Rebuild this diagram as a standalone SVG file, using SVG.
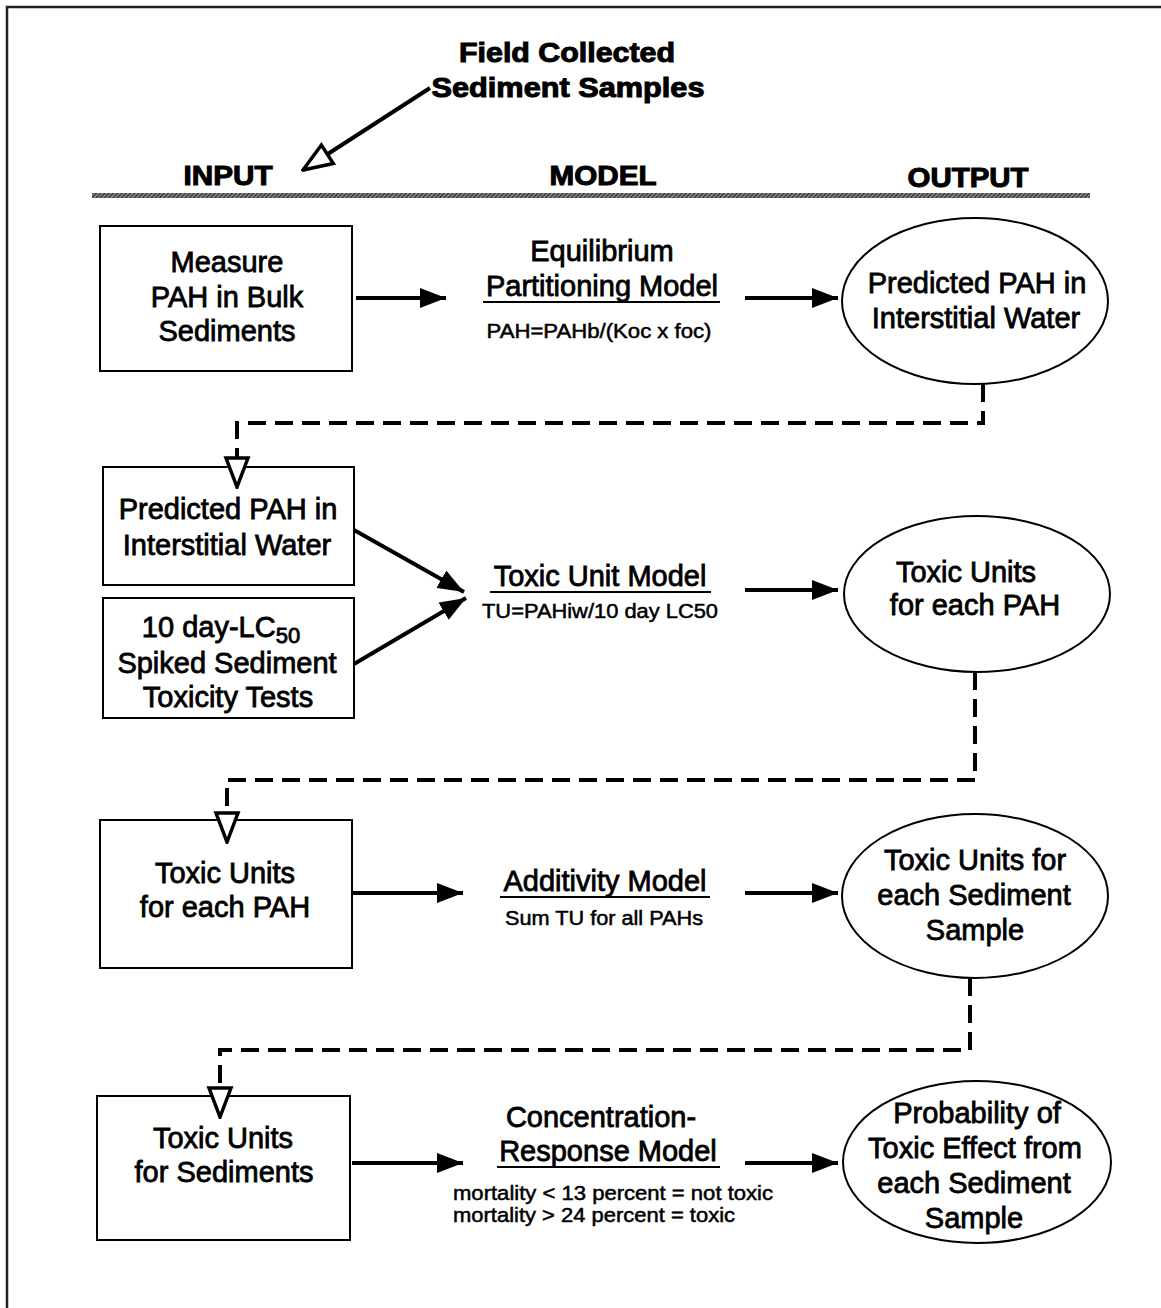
<svg xmlns="http://www.w3.org/2000/svg" width="1161" height="1308" viewBox="0 0 1161 1308">
  <style>
    text { font-family: "Liberation Sans", Arial, sans-serif; fill: #000; }
    .head { font-size: 27px; font-weight: bold; text-anchor: middle; stroke: #000; stroke-width: 1; }
    .lbl { font-size: 29px; text-anchor: middle; stroke: #000; stroke-width: 0.8; }
    .sm { font-size: 20px; text-anchor: middle; stroke: #000; stroke-width: 0.5; }
    .box { fill: #fff; stroke: #000; stroke-width: 2; }
    .conn { fill: none; stroke: #000; stroke-width: 4; }
    .dash { fill: none; stroke: #000; stroke-width: 4; stroke-dasharray: 18 9; }
    .ul { stroke: #000; stroke-width: 2; }
  </style>
  <defs>
    <marker id="solid" markerUnits="userSpaceOnUse" viewBox="0 0 26 20" refX="26" refY="10" markerWidth="26" markerHeight="20" orient="auto">
      <path d="M0,0 L26,10 L0,20 z" fill="#000"/>
    </marker>
    <marker id="open" markerUnits="userSpaceOnUse" viewBox="0 0 34 28" refX="32" refY="14" markerWidth="34" markerHeight="28" orient="auto">
      <path d="M3,3 L32,14 L3,25 z" fill="#fff" stroke="#000" stroke-width="3.5" stroke-linejoin="miter"/>
    </marker>
    <pattern id="hatch" patternUnits="userSpaceOnUse" width="3" height="3" patternTransform="rotate(45)">
      <rect width="3" height="3" fill="#9a9a9a"/>
      <rect width="1.6" height="3" fill="#333"/>
    </pattern>
  </defs>

  <!-- page frame -->
  <path d="M7,1308 V7 H1161" fill="none" stroke="#222" stroke-width="2.5"/>

  <!-- title and column headings -->
  <g id="title">
    <text class="head" x="567" y="62" textLength="216" lengthAdjust="spacingAndGlyphs">Field Collected</text>
    <text class="head" x="568" y="97" textLength="273" lengthAdjust="spacingAndGlyphs">Sediment Samples</text>
  </g>
  <g id="headings">
    <text class="head" x="228" y="185" textLength="89" lengthAdjust="spacingAndGlyphs">INPUT</text>
    <text class="head" x="603" y="185" textLength="107" lengthAdjust="spacingAndGlyphs">MODEL</text>
    <text class="head" x="968" y="187" textLength="121" lengthAdjust="spacingAndGlyphs">OUTPUT</text>
    <rect x="92" y="193" width="998" height="5" fill="url(#hatch)"/>
  </g>

  <!-- row 1 -->
  <g id="measure-bulk">
    <rect class="box" x="100" y="226" width="252" height="145"/>
    <text class="lbl" x="227" y="272">Measure</text>
    <text class="lbl" x="227" y="307">PAH in Bulk</text>
    <text class="lbl" x="227" y="341">Sediments</text>
  </g>
  <g id="ep-model">
    <text class="lbl" x="602" y="261">Equilibrium</text>
    <text class="lbl" x="602" y="296">Partitioning Model</text>
    <line class="ul" x1="483" y1="302" x2="720" y2="302"/>
    <text class="sm" x="599" y="338" textLength="225" lengthAdjust="spacingAndGlyphs">PAH=PAHb/(Koc x foc)</text>
  </g>
  <g id="pah-water-out">
    <ellipse class="box" cx="975" cy="301" rx="133" ry="83"/>
    <text class="lbl" x="977" y="293">Predicted PAH in</text>
    <text class="lbl" x="976" y="328">Interstitial Water</text>
  </g>

  <!-- row 2 -->
  <g id="pah-water-in">
    <rect class="box" x="103" y="467" width="251" height="118"/>
    <text class="lbl" x="228" y="519">Predicted PAH in</text>
    <text class="lbl" x="227" y="555">Interstitial Water</text>
  </g>
  <g id="lc50-tests">
    <rect class="box" x="103" y="598" width="251" height="120"/>
    <text class="lbl" x="221" y="637">10 day-LC<tspan font-size="22" dy="6">50</tspan></text>
    <text class="lbl" x="227" y="673">Spiked Sediment</text>
    <text class="lbl" x="228" y="707">Toxicity Tests</text>
  </g>
  <g id="tu-model">
    <text class="lbl" x="600" y="586">Toxic Unit Model</text>
    <line class="ul" x1="490" y1="592" x2="711" y2="592"/>
    <text class="sm" x="600" y="618" textLength="236" lengthAdjust="spacingAndGlyphs">TU=PAHiw/10 day LC50</text>
  </g>
  <g id="tu-each-out">
    <ellipse class="box" cx="977" cy="594" rx="133" ry="78"/>
    <text class="lbl" x="966" y="582">Toxic Units</text>
    <text class="lbl" x="975" y="615">for each PAH</text>
  </g>

  <!-- row 3 -->
  <g id="tu-each-in">
    <rect class="box" x="100" y="820" width="252" height="148"/>
    <text class="lbl" x="225" y="883">Toxic Units</text>
    <text class="lbl" x="225" y="917">for each PAH</text>
  </g>
  <g id="add-model">
    <text class="lbl" x="605" y="891">Additivity Model</text>
    <line class="ul" x1="500" y1="897" x2="710" y2="897"/>
    <text class="sm" x="604" y="925" textLength="198" lengthAdjust="spacingAndGlyphs">Sum TU for all PAHs</text>
  </g>
  <g id="tu-sample-out">
    <ellipse class="box" cx="975" cy="896" rx="133" ry="82"/>
    <text class="lbl" x="975" y="870">Toxic Units for</text>
    <text class="lbl" x="974" y="905">each Sediment</text>
    <text class="lbl" x="975" y="940">Sample</text>
  </g>

  <!-- row 4 -->
  <g id="tu-sed-in">
    <rect class="box" x="97" y="1096" width="253" height="144"/>
    <text class="lbl" x="223" y="1148">Toxic Units</text>
    <text class="lbl" x="224" y="1182">for Sediments</text>
  </g>
  <g id="cr-model">
    <text class="lbl" x="601" y="1127">Concentration-</text>
    <text class="lbl" x="608" y="1161">Response Model</text>
    <line class="ul" x1="497" y1="1167" x2="720" y2="1167"/>
    <text class="sm" x="613" y="1200" textLength="320" lengthAdjust="spacingAndGlyphs">mortality &lt; 13 percent = not toxic</text>
    <text class="sm" x="594" y="1222" textLength="282" lengthAdjust="spacingAndGlyphs">mortality &gt; 24 percent = toxic</text>
  </g>
  <g id="prob-effect">
    <ellipse class="box" cx="977" cy="1162" rx="134" ry="81"/>
    <text class="lbl" x="977" y="1123">Probability of</text>
    <text class="lbl" x="975" y="1158">Toxic Effect from</text>
    <text class="lbl" x="974" y="1193">each Sediment</text>
    <text class="lbl" x="974" y="1228">Sample</text>
  </g>

  <!-- connectors -->
  <g id="connectors">
    <line class="conn" x1="430" y1="88" x2="303" y2="170" marker-end="url(#open)"/>
    <line class="conn" x1="356" y1="298" x2="446" y2="298" marker-end="url(#solid)"/>
    <line class="conn" x1="745" y1="298" x2="838" y2="298" marker-end="url(#solid)"/>
    <path class="dash" d="M983,384 V423 H237 V487" marker-end="url(#open)"/>
    <line class="conn" x1="354" y1="530" x2="464" y2="592" marker-end="url(#solid)"/>
    <line class="conn" x1="354" y1="664" x2="466" y2="598" marker-end="url(#solid)"/>
    <line class="conn" x1="745" y1="590" x2="838" y2="590" marker-end="url(#solid)"/>
    <path class="dash" d="M975,672 V780 H227 V842" marker-end="url(#open)"/>
    <line class="conn" x1="352" y1="893" x2="463" y2="893" marker-end="url(#solid)"/>
    <line class="conn" x1="745" y1="893" x2="838" y2="893" marker-end="url(#solid)"/>
    <path class="dash" d="M970,978 V1050 H220 V1117" marker-end="url(#open)"/>
    <line class="conn" x1="352" y1="1163" x2="463" y2="1163" marker-end="url(#solid)"/>
    <line class="conn" x1="745" y1="1163" x2="838" y2="1163" marker-end="url(#solid)"/>
  </g>
</svg>
